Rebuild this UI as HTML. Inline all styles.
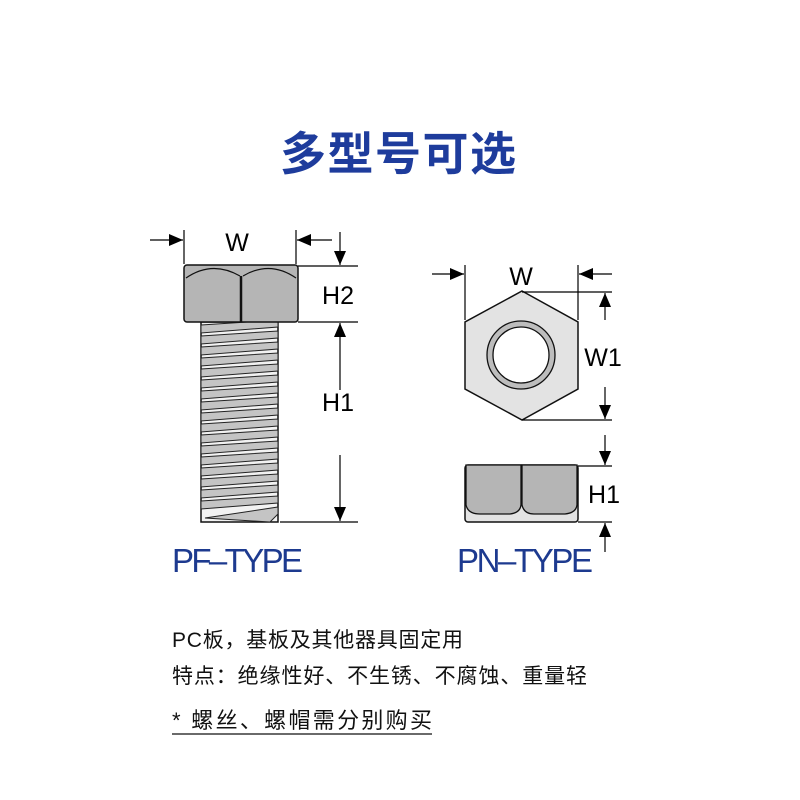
<!DOCTYPE html>
<html><head><meta charset="utf-8"><style>
html,body{margin:0;padding:0;background:#fff;}
svg{display:block}
text{font-family:"Liberation Sans","Noto Sans CJK SC",sans-serif;}
</style></head><body>
<svg width="800" height="800" viewBox="0 0 800 800" xmlns="http://www.w3.org/2000/svg">
<defs>
<marker id="ah" markerWidth="14" markerHeight="14" refX="14" refY="6" orient="auto" markerUnits="userSpaceOnUse">
<path d="M0,0 L14,6 L0,12 Z" fill="#000"/></marker>
</defs>
<text x="398" y="170" text-anchor="middle" font-size="46" font-weight="bold" fill="#1e3c9c" font-family="'Noto Sans CJK SC',sans-serif" textLength="236">多型号可选</text>

<rect x="201" y="322" width="77" height="200" fill="#f2f2f2" stroke="#111" stroke-width="1.5"/>
<g stroke="#222" stroke-width="1" fill="#c4c4c4">
<path d="M201,325 L278,320 L278,327 L201,333Z"/>
<path d="M201,336 L278,331 L278,338 L201,344Z"/>
<path d="M201,347 L278,342 L278,349 L201,355Z"/>
<path d="M201,358 L278,353 L278,360 L201,366Z"/>
<path d="M201,369 L278,364 L278,371 L201,377Z"/>
<path d="M201,380 L278,375 L278,382 L201,388Z"/>
<path d="M201,391 L278,386 L278,393 L201,399Z"/>
<path d="M201,402 L278,397 L278,404 L201,410Z"/>
<path d="M201,413 L278,408 L278,415 L201,421Z"/>
<path d="M201,424 L278,419 L278,426 L201,432Z"/>
<path d="M201,435 L278,430 L278,437 L201,443Z"/>
<path d="M201,446 L278,441 L278,448 L201,454Z"/>
<path d="M201,457 L278,452 L278,459 L201,465Z"/>
<path d="M201,468 L278,463 L278,470 L201,476Z"/>
<path d="M201,479 L278,474 L278,481 L201,487Z"/>
<path d="M201,490 L278,485 L278,492 L201,498Z"/>
<path d="M201,501 L278,496 L278,503 L201,509Z"/>
<path d="M205,518 L278,507 L278,514 L270,522Z"/>
</g>
<rect x="184" y="265" width="114" height="57" rx="3" fill="#b5b5b5" stroke="#111" stroke-width="1.5"/>
<path d="M186,278 Q212,260 240,276 M243,276 Q270,260 296,278" fill="none" stroke="#111" stroke-width="1.2"/>
<line x1="241" y1="276" x2="241" y2="322" stroke="#111" stroke-width="2.5"/>

<g stroke="#000" stroke-width="1.2" fill="none">
<line x1="184" y1="230" x2="184" y2="264"/>
<line x1="296" y1="230" x2="296" y2="264"/>
<line x1="150" y1="240" x2="183" y2="240" marker-end="url(#ah)"/>
<line x1="332" y1="240" x2="297" y2="240" marker-end="url(#ah)"/>
<line x1="298" y1="266" x2="358" y2="266"/>
<line x1="298" y1="322" x2="358" y2="322"/>
<line x1="280" y1="522" x2="358" y2="522"/>
<line x1="340" y1="232" x2="340" y2="265" marker-end="url(#ah)"/>
<line x1="340" y1="390" x2="340" y2="323" marker-end="url(#ah)"/>
<line x1="340" y1="455" x2="340" y2="521" marker-end="url(#ah)"/>
</g>
<text x="237" y="251" text-anchor="middle" font-size="25">W</text>
<text x="338" y="304" text-anchor="middle" font-size="25">H2</text>
<text x="338" y="411" text-anchor="middle" font-size="25">H1</text>

<polygon points="522,291 578,322 578,389 522,420 465,389 465,322" fill="#e3e3e3" stroke="#111" stroke-width="1.5"/>
<circle cx="521" cy="355" r="34" fill="#bdbdbd" stroke="#111" stroke-width="1.3"/>
<circle cx="521" cy="355" r="28" fill="#fff" stroke="#111" stroke-width="1.3"/>
<rect x="465" y="465" width="113" height="57" rx="3" fill="#e3e3e3" stroke="#111" stroke-width="1.5"/>
<path d="M466,465 L466,505 Q468,514 480,514 L510,514 Q520,513 521,505 L521,465 Z" fill="#b5b5b5" stroke="#111" stroke-width="1.3"/>
<path d="M522,465 L522,505 Q524,514 534,514 L565,514 Q576,513 577,505 L577,465 Z" fill="#b5b5b5" stroke="#111" stroke-width="1.3"/>
<g stroke="#000" stroke-width="1.2" fill="none">
<line x1="465" y1="265" x2="465" y2="320"/>
<line x1="578" y1="265" x2="578" y2="320"/>
<line x1="432" y1="274" x2="464" y2="274" marker-end="url(#ah)"/>
<line x1="612" y1="274" x2="579" y2="274" marker-end="url(#ah)"/>
<line x1="522" y1="292" x2="612" y2="292"/>
<line x1="522" y1="420" x2="612" y2="420"/>
<line x1="605" y1="320" x2="605" y2="293" marker-end="url(#ah)"/>
<line x1="605" y1="387" x2="605" y2="419" marker-end="url(#ah)"/>
<line x1="578" y1="466" x2="612" y2="466"/>
<line x1="578" y1="522" x2="612" y2="522"/>
<line x1="605" y1="435" x2="605" y2="465" marker-end="url(#ah)"/>
<line x1="605" y1="552" x2="605" y2="523" marker-end="url(#ah)"/>
</g>
<text x="521" y="285" text-anchor="middle" font-size="25">W</text>
<text x="603" y="366" text-anchor="middle" font-size="25">W1</text>
<text x="604" y="503" text-anchor="middle" font-size="25">H1</text>

<text x="172" y="572" font-size="33" fill="#1d3a8f" textLength="131">PF–TYPE</text>
<text x="457" y="572" font-size="33" fill="#1d3a8f" textLength="136">PN–TYPE</text>

<text x="172" y="647" font-size="21" fill="#111" textLength="291">PC板，基板及其他器具固定用</text>
<text x="172" y="683" font-size="21" fill="#111" textLength="415">特点：绝缘性好、不生锈、不腐蚀、重量轻</text>
<text x="172" y="728" font-size="22" fill="#111" textLength="260">* 螺丝、螺帽需分别购买</text>
<line x1="172" y1="734" x2="432" y2="734" stroke="#111" stroke-width="1.2"/>
</svg>
</body></html>
